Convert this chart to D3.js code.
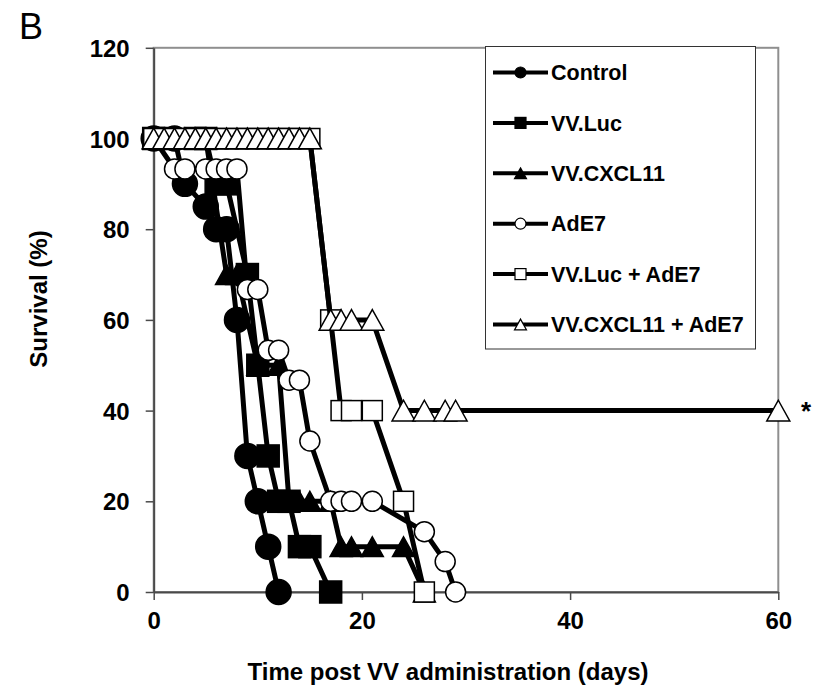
<!DOCTYPE html>
<html>
<head>
<meta charset="utf-8">
<script src="https://cdn.jsdelivr.net/npm/d3@7/dist/d3.min.js"></script>
<style>
body { margin: 0; background: #fff; }
text { font-family: "Liberation Sans", Arial, sans-serif; }
</style>
</head>
<body>
<div id="chart"></div>
<script>
// series names and the values (day, % survival)
var seriesNames = ["Control", "VV.Luc", "VV.CXCL11", "AdE7", "VV.Luc + AdE7", "VV.CXCL11 + AdE7"];

var controlDays = [0, 2, 3, 5, 6, 7, 8, 9, 10, 11, 12];
var controlSurv = [100, 100, 90, 85, 80, 80, 60, 30, 20, 10, 0];

var lucDays = [0, 1, 4, 5, 6, 7, 9, 10, 11, 12, 13, 14, 15, 17];
var lucSurv = [100, 100, 100, 100, 90, 90, 70, 50, 30, 20, 20, 10, 10, 0];

var cxclDays = [0, 4, 5, 7, 8, 10, 12, 13, 14, 15, 17, 18, 19, 21, 24, 26];
var cxclSurv = [100, 100, 100, 70, 70, 50, 50, 20, 20, 20, 20, 10, 10, 10, 10, 0];

var adDays = [0, 2, 3, 5, 6, 7, 8, 9, 10, 11, 12, 13, 14, 15, 17, 18, 19, 21, 26, 28, 29];
var adSurv = [100, 93.3, 93.3, 93.3, 93.3, 93.3, 93.3, 66.7, 66.7, 53.3, 53.3, 46.7, 46.7, 33.3, 20, 20, 20, 20, 13.3, 6.7, 0];

var lucAdDays = [0, 1, 2, 3, 4, 5, 6, 7, 8, 9, 10, 11, 12, 13, 14, 15, 17, 18, 19, 21, 24, 26];
var lucAdSurv = [100, 100, 100, 100, 100, 100, 100, 100, 100, 100, 100, 100, 100, 100, 100, 100, 60, 40, 40, 40, 20, 0];

var cxclAdDays = [0, 1, 2, 3, 4, 5, 6, 7, 8, 9, 10, 11, 12, 13, 14, 15, 17, 18, 19, 21, 24, 26, 28, 29, 60];
var cxclAdSurv = [100, 100, 100, 100, 100, 100, 100, 100, 100, 100, 100, 100, 100, 100, 100, 100, 60, 60, 60, 60, 40, 40, 40, 40, 40];

var xTicks = [0, 20, 40, 60];
var yTicks = [0, 20, 40, 60, 80, 100, 120];

// marker look per series, same order as seriesNames
var shapes = ["circle", "square", "triangle", "circle", "square", "triangle"];
var fills = ["#000", "#000", "#000", "#fff", "#fff", "#fff"];
var markerSize = [25, 22, 22, 20, 20, 23];

var allDays = [controlDays, lucDays, cxclDays, adDays, lucAdDays, cxclAdDays];
var allSurv = [controlSurv, lucSurv, cxclSurv, adSurv, lucAdSurv, cxclAdSurv];

var W = 827, H = 693;
var plotLeft = 153.7, plotRight = 778.3, plotTop = 47.8, plotBottom = 592;

var x = d3.scaleLinear().domain([0, 60]).range([plotLeft, plotRight]);
var y = d3.scaleLinear().domain([0, 120]).range([plotBottom, plotTop]);

var svg = d3.select("#chart").append("svg")
    .attr("width", W)
    .attr("height", H);

// frame round the plot area (top and right show)
svg.append("rect")
    .attr("x", plotLeft).attr("y", plotTop)
    .attr("width", plotRight - plotLeft).attr("height", plotBottom - plotTop)
    .attr("fill", "none")
    .attr("stroke", "#8f8f8f")
    .attr("stroke-width", 2);

// axes
var yAxis = svg.append("g")
    .attr("transform", "translate(" + plotLeft + ",0)")
    .call(d3.axisLeft(y).tickValues(yTicks).tickSize(8).tickSizeOuter(0).tickPadding(16));

var xAxis = svg.append("g")
    .attr("transform", "translate(0," + plotBottom + ")")
    .call(d3.axisBottom(x).tickValues(xTicks).tickSize(8).tickSizeOuter(0).tickPadding(12));

[xAxis, yAxis].forEach(function(a) {
    a.select(".domain").attr("stroke", "#4a4a4a").attr("stroke-width", 2);
    a.selectAll(".tick line").attr("stroke", "#4a4a4a").attr("stroke-width", 1.5);
    a.selectAll("text")
        .attr("fill", "#000")
        .style("font-family", "'Liberation Sans', Arial, sans-serif")
        .style("font-size", "24px")
        .style("font-weight", "bold");
});
yAxis.selectAll("text").attr("dy", "0.36em");

// draws one marker centred on cx, cy
function drawMarker(g, shape, fill, size, cx, cy, sw) {
    var h = size / 2;
    if (shape === "circle") {
        g.append("circle").attr("cx", cx).attr("cy", cy).attr("r", h)
            .attr("fill", fill).attr("stroke", "#000").attr("stroke-width", sw);
    } else if (shape === "square") {
        g.append("rect").attr("x", cx - h).attr("y", cy - h)
            .attr("width", size).attr("height", size)
            .attr("fill", fill).attr("stroke", "#000").attr("stroke-width", sw);
    } else {
        var th = size * 0.9 / 2;
        g.append("path")
            .attr("d", "M" + cx + "," + (cy - th) + "L" + (cx + h) + "," + (cy + th) + "L" + (cx - h) + "," + (cy + th) + "Z")
            .attr("fill", fill).attr("stroke", "#000").attr("stroke-width", sw)
            .attr("stroke-linejoin", "miter");
    }
}

var line = d3.line()
    .x(function(d) { return x(d[0]); })
    .y(function(d) { return y(d[1]); });

// each series: line first, then its markers on top
seriesNames.forEach(function(name, i) {
    var pts = allDays[i].map(function(d, j) { return [d, allSurv[i][j]]; });
    var g = svg.append("g");
    g.append("path")
        .datum(pts)
        .attr("d", line)
        .attr("fill", "none")
        .attr("stroke", "#000")
        .attr("stroke-width", 5);
    pts.forEach(function(p) {
        drawMarker(g, shapes[i], fills[i], markerSize[i], x(p[0]), y(p[1]), 1.5);
    });
});

// legend
var lg = svg.append("g");
lg.append("rect")
    .attr("x", 485.5).attr("y", 46.5)
    .attr("width", 270).attr("height", 302.5)
    .attr("fill", "#fff")
    .attr("stroke", "#333")
    .attr("stroke-width", 1);

seriesNames.forEach(function(name, i) {
    var ly = 72.5 + i * 50.4;
    lg.append("line")
        .attr("x1", 493).attr("x2", 548)
        .attr("y1", ly).attr("y2", ly)
        .attr("stroke", "#000").attr("stroke-width", 4);
    drawMarker(lg, shapes[i], fills[i], shapes[i] === "triangle" ? 12 : 11, 520.5, ly, 1.2);
    lg.append("text")
        .attr("x", 551).attr("y", ly)
        .attr("dy", "0.36em")
        .style("font-size", "21.5px")
        .style("font-weight", "bold")
        .text(name);
});

// axis titles
svg.append("text")
    .attr("transform", "translate(47,299) rotate(-90)")
    .attr("text-anchor", "middle")
    .style("font-size", "24px")
    .style("font-weight", "bold")
    .text("Survival (%)");

svg.append("text")
    .attr("x", 448).attr("y", 680)
    .attr("text-anchor", "middle")
    .style("font-size", "24px")
    .style("font-weight", "bold")
    .text("Time post VV administration (days)");

// significance mark and panel letter
svg.append("text")
    .attr("x", 806).attr("y", 420)
    .attr("text-anchor", "middle")
    .style("font-size", "26px")
    .style("font-weight", "bold")
    .text("*");

svg.append("text")
    .attr("x", 19).attr("y", 39)
    .style("font-family", "'Liberation Sans', Arial, sans-serif")
    .style("font-size", "36px")
    .text("B");
</script>
</body>
</html>
